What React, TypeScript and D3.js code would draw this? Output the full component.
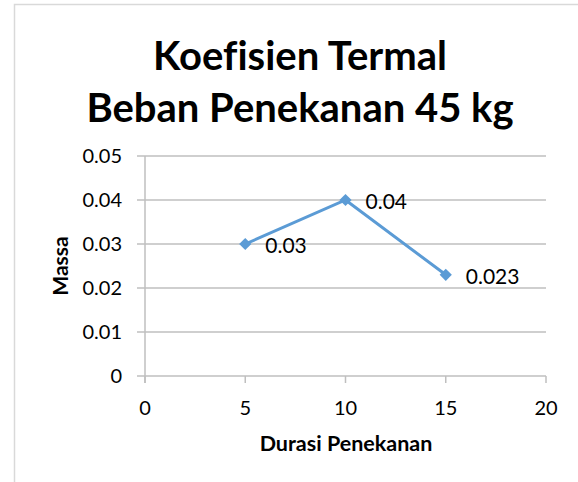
import React from "react";
import * as d3 from "d3";

const xValues = [5, 10, 15];
const yValues = [0.03, 0.04, 0.023];
const dataLabels = ["0.03", "0.04", "0.023"];
const xTicks = [0, 5, 10, 15, 20];
const yTicks = [0, 0.01, 0.02, 0.03, 0.04, 0.05];
const titleLines = ["Koefisien Termal", "Beban Penekanan 45 kg"];
const xTitle = "Durasi Penekanan";
const yTitle = "Massa";

const FONT = "Lato, 'Open Sans', sans-serif";
const noLig = { fontVariantLigatures: "none", fontFeatureSettings: "'liga' 0, 'clig' 0" } as React.CSSProperties;

export default function App() {
  const W = 578, H = 482;
  const x = d3.scaleLinear().domain([0, 20]).range([145, 546]);
  const y = d3.scaleLinear().domain([0, 0.05]).range([376, 156]);
  const pts = xValues.map((v, i) => [x(v), y(yValues[i])] as [number, number]);
  const line = d3.line()(pts) || "";
  const grid = "#BFBFBF";
  const blue = "#5B9BD5";
  const fmtY = (v: number) => (v === 0 ? "0" : d3.format(".2f")(v));
  const diamond = d3.symbol().type(d3.symbolDiamond2).size(95)() || "";
  return (
    <svg width={W} height={H} style={{ position: "absolute", left: 0, top: 0, background: "#fff" }}>
      <rect x={14.5} y={4.5} width={W} height={H} fill="#fff" stroke="#D9D9D9" strokeWidth={1.5} />
      {titleLines.map((t, i) => (
        <text key={t} x={300} y={70 + i * 52} textAnchor="middle" fontFamily={FONT} fontWeight="bold" fontSize={40} fill="#000" style={noLig}>
          {t}
        </text>
      ))}
      {yTicks.map((v) => (
        <g key={v}>
          <line x1={137} x2={546} y1={y(v)} y2={y(v)} stroke={grid} strokeWidth={1.5} />
          <text x={122} y={y(v)} dy="0.35em" textAnchor="end" fontFamily={FONT} fontSize={20} fill="#000">
            {fmtY(v)}
          </text>
        </g>
      ))}
      <line x1={x(0)} x2={x(0)} y1={y(0.05)} y2={y(0) + 7} stroke={grid} strokeWidth={1.5} />
      {xTicks.map((v) => (
        <g key={v}>
          <line x1={x(v)} x2={x(v)} y1={y(0)} y2={y(0) + 7} stroke={grid} strokeWidth={1.5} />
          <text x={x(v)} y={408} dy="0.35em" textAnchor="middle" fontFamily={FONT} fontSize={20} fill="#000">
            {v}
          </text>
        </g>
      ))}
      <text x={346} y={443} dy="0.35em" textAnchor="middle" fontFamily={FONT} fontWeight="bold" fontSize={21.5} fill="#000">
        {xTitle}
      </text>
      <text transform={`translate(61,266) rotate(-90)`} dy="0.35em" textAnchor="middle" fontFamily={FONT} fontWeight="bold" fontSize={21} fill="#000">
        {yTitle}
      </text>
      <path d={line} fill="none" stroke={blue} strokeWidth={3} />
      {pts.map(([px, py], i) => (
        <g key={i}>
          <path d={diamond} transform={`translate(${px},${py})`} fill={blue} />
          <text x={px + 20} y={py + 2} dy="0.35em" fontFamily={FONT} fontSize={21} fill="#000">
            {dataLabels[i]}
          </text>
        </g>
      ))}
    </svg>
  );
}
